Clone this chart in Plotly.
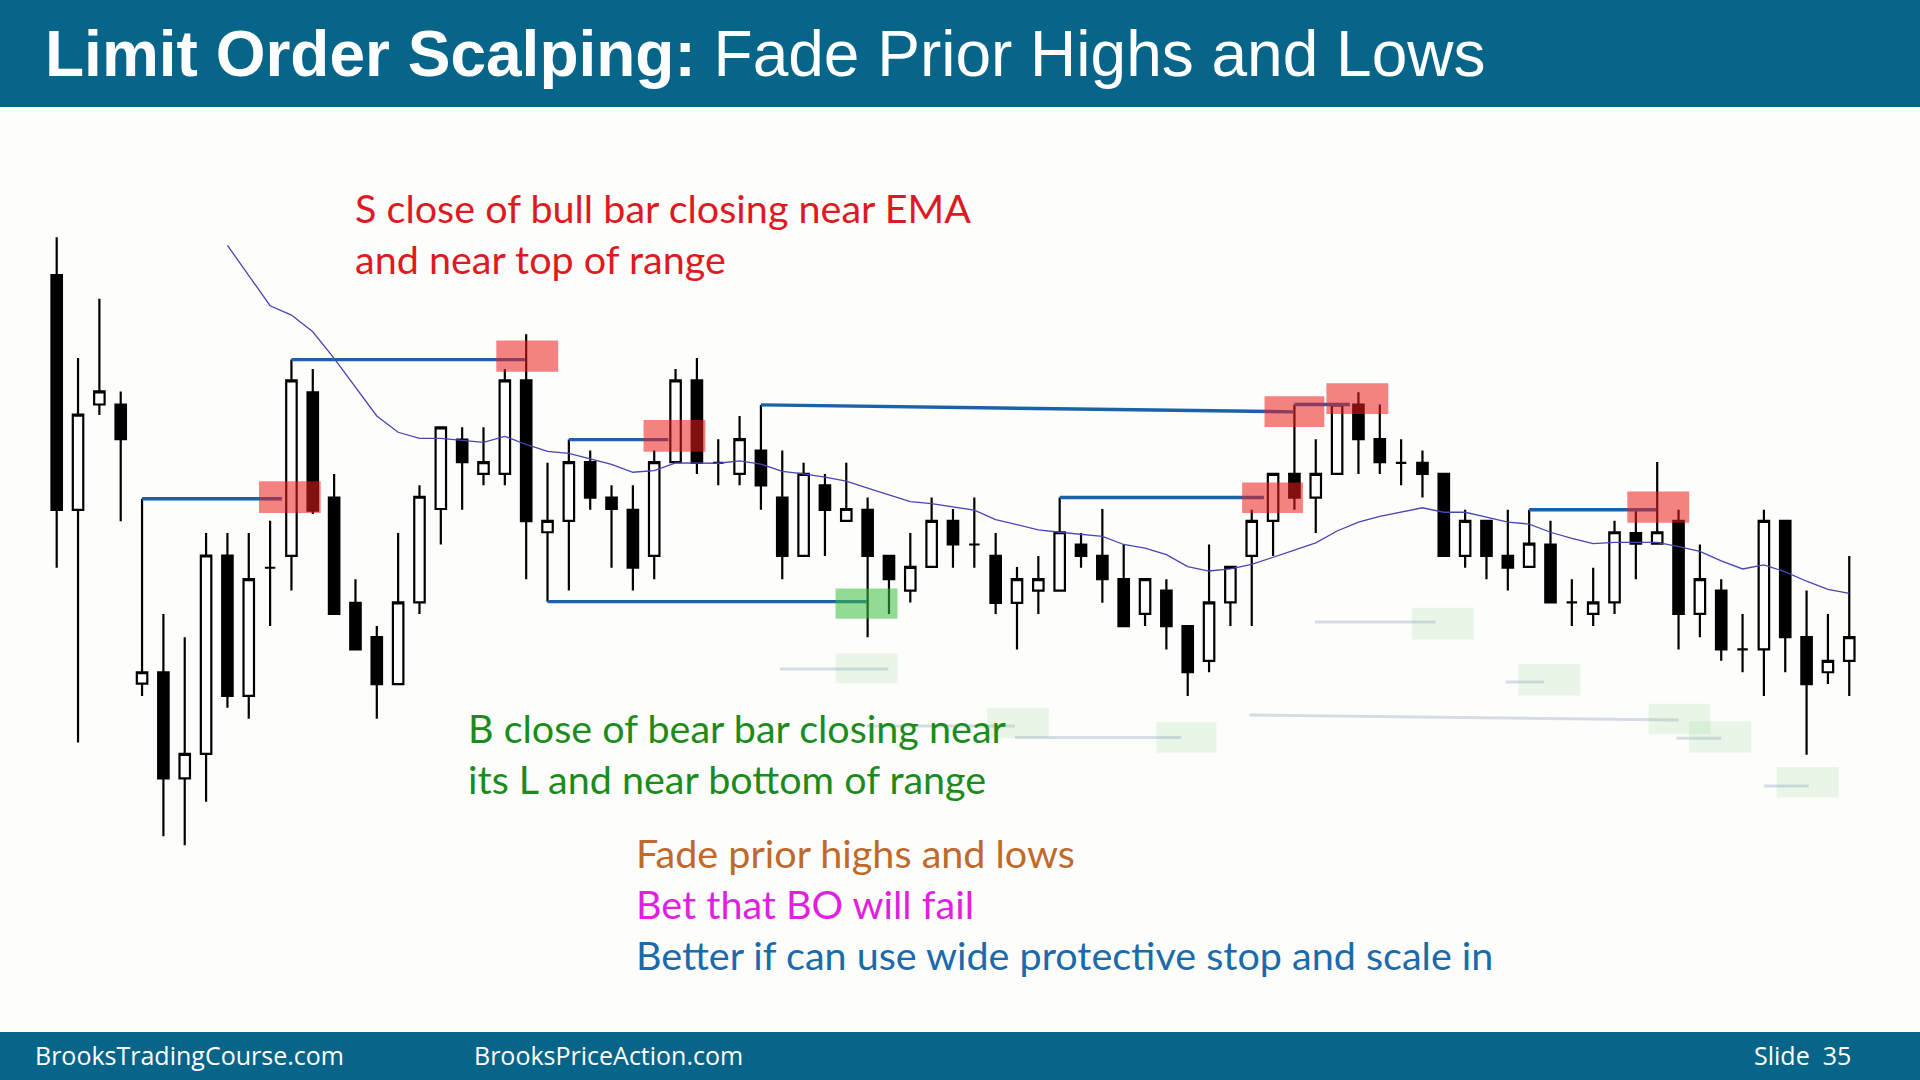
import plotly.graph_objects as go

# ---------------- data ----------------
bar_index = list(range(85))

open_ = [146.5, 89.0, 114.8, 114.8, 46.4, 49.2, 23.2, 29.2, 77.8, 43.4,
         74.8, 77.7, 117.8, 92.0, 66.2, 57.8, 46.3, 66.3, 89.2, 106.2,
         97.8, 97.8, 120.7, 83.5, 86.3, 100.7, 92.0, 89.0, 77.7, 100.7,
         120.7, 100.5, 97.8, 103.5, 92.0, 77.7, 95.0, 86.3, 89.0, 77.7,
         69.2, 75.0, 86.3, 80.5, 77.7, 66.2, 69.2, 69.2, 80.5, 77.7,
         72.0, 63.5, 69.2, 60.5, 52.0, 66.3, 77.7, 86.3, 97.8, 92.0,
         97.8, 114.8, 106.3, 100.5, 100.5, 97.8, 77.7, 86.3, 77.7, 75.0,
         80.5, 66.3, 63.5, 66.3, 83.3, 80.7, 86.3, 63.5, 69.2, 54.8,
         54.8, 86.3, 57.8, 49.2, 52.0]
high = [155.8, 126.2, 140.7, 118.0, 91.7, 63.5, 57.8, 83.3, 83.3, 83.3,
        86.3, 125.8, 123.5, 97.8, 72.0, 60.5, 83.3, 95.0, 109.2, 109.2,
        109.2, 123.5, 132.0, 100.5, 106.2, 103.5, 95.0, 95.0, 103.5, 123.5,
        126.2, 106.3, 112.0, 114.7, 103.5, 100.5, 97.8, 100.5, 92.0, 77.7,
        83.3, 92.0, 89.2, 92.0, 83.3, 75.0, 77.7, 92.0, 83.3, 89.2,
        80.5, 72.0, 72.0, 60.5, 80.5, 75.0, 89.0, 97.8, 114.8, 106.3,
        114.8, 117.8, 114.8, 106.3, 103.5, 97.8, 89.0, 86.3, 89.0, 89.0,
        86.3, 72.0, 74.8, 86.3, 89.0, 100.7, 89.0, 80.5, 72.0, 63.5,
        89.0, 86.3, 69.2, 63.5, 77.7]
low = [74.8, 32.0, 112.2, 86.2, 43.4, 9.0, 6.8, 17.5, 40.5, 37.8,
       60.5, 69.2, 88.0, 63.5, 54.8, 37.8, 46.3, 63.5, 80.5, 89.0,
       95.0, 95.0, 72.0, 66.5, 69.2, 89.0, 74.8, 69.2, 72.0, 100.7,
       97.8, 95.0, 95.0, 89.0, 72.0, 77.7, 77.7, 86.3, 57.8, 63.5,
       66.3, 75.0, 74.8, 74.8, 63.5, 54.8, 63.5, 69.2, 74.8, 66.2,
       60.5, 60.5, 54.8, 43.4, 49.2, 60.5, 60.5, 77.7, 89.0, 83.3,
       97.8, 97.8, 97.8, 95.0, 92.0, 77.7, 74.8, 72.0, 69.2, 75.0,
       66.3, 60.5, 60.5, 63.5, 72.0, 80.7, 54.8, 57.8, 52.0, 49.2,
       43.4, 49.2, 29.0, 46.3, 43.4]
close = [89.0, 112.3, 118.0, 106.3, 49.2, 23.2, 29.2, 77.8, 43.4, 72.0,
         74.8, 120.7, 88.8, 63.5, 54.8, 46.3, 66.3, 92.2, 109.2, 100.7,
         100.7, 120.7, 86.2, 86.3, 100.7, 92.0, 89.2, 74.8, 100.7, 120.7,
         100.5, 100.5, 106.3, 95.0, 77.7, 97.8, 89.0, 89.2, 77.7, 72.0,
         75.0, 86.3, 80.5, 80.5, 66.2, 72.0, 72.0, 83.5, 77.7, 72.0,
         60.5, 72.0, 60.5, 49.2, 66.3, 75.0, 86.3, 97.8, 92.0, 97.8,
         114.8, 106.3, 100.7, 100.5, 97.8, 77.7, 86.3, 77.7, 74.8, 80.7,
         66.3, 66.3, 66.3, 83.5, 80.7, 83.5, 63.5, 72.0, 54.8, 54.8,
         86.3, 57.8, 46.3, 52.0, 57.8]

ema = [None] * 8 + [
    153.8, 146.4, 139.0, 136.7, 132.6, 126.1, 118.9, 112.0, 108.0, 106.5,
    106.5, 106.0, 105.5, 107.0, 105.0, 103.3, 102.8, 101.5, 100.1, 98.2,
    98.6, 100.5, 100.4, 100.4, 101.0, 100.2, 98.4, 97.8, 97.0, 96.0,
    94.3, 92.7, 91.0, 90.5, 89.7, 88.9, 86.6, 85.3, 84.1, 83.5,
    83.0, 82.5, 80.5, 79.6, 78.0, 75.1, 74.0, 74.5, 75.6, 77.4,
    79.1, 80.9, 83.8, 86.0, 87.4, 88.5, 89.5, 88.4, 88.4, 87.2,
    86.0, 85.5, 83.5, 82.0, 80.7, 81.0, 81.0, 81.0, 80.0, 78.8,
    76.5, 74.5, 75.5, 73.8, 71.5, 69.5, 68.5]

# prior highs / lows being faded (horizontal reference lines)
level_x0 = [4, 11, 24, 23, 33, 47, 58, 69]
level_x1 = [10.55, 21.95, 28.66, 37.96, 57.95, 56.57, 60.6, 74.95]
level_y0 = [91.7, 125.8, 106.2, 66.5, 114.7, 92.0, 114.8, 89.0]
level_y1 = [91.7, 125.8, 106.2, 66.5, 113.0, 92.0, 114.8, 89.0]

# sell-zone boxes
sell_x0 = [9.48, 20.6, 27.5, 56.6, 55.55, 59.5, 73.6]
sell_x1 = [12.37, 23.5, 30.4, 59.4, 58.4, 62.4, 76.5]
sell_y0 = [88.2, 122.8, 103.2, 109.3, 88.2, 112.5, 85.8]
sell_y1 = [96.0, 130.5, 111.0, 116.8, 95.7, 120.0, 93.5]

# buy-zone boxes
buy_x0 = [36.5]
buy_x1 = [39.4]
buy_y0 = [62.3]
buy_y1 = [69.7]

# faded (ghost) lines and boxes
ghost_line_x0 = [33.9, 37.96, 44.9, 58.96, 55.9, 67.9, 75.9, 80.0]
ghost_line_x1 = [38.97, 44.9, 52.7, 64.6, 76.0, 69.7, 78.0, 82.1]
ghost_line_y0 = [50.0, 36.0, 33.2, 61.5, 38.7, 46.8, 33.0, 21.3]
ghost_line_y1 = [50.0, 36.0, 33.2, 61.5, 37.5, 46.8, 33.0, 21.3]

ghost_box_x0 = [36.5, 43.6, 51.54, 63.5, 68.5, 74.6, 76.5, 80.6]
ghost_box_x1 = [39.4, 46.5, 54.35, 66.4, 71.4, 77.5, 79.4, 83.5]
ghost_box_y0 = [46.5, 33.0, 29.5, 57.2, 43.5, 34.0, 29.5, 18.5]
ghost_box_y1 = [53.8, 40.5, 37.0, 65.0, 51.2, 41.5, 37.2, 26.0]

title_bold = "Limit Order Scalping:"
title_rest = "Fade Prior Highs and Lows"
sell_note = ["S close of bull bar closing near EMA", "and near top of range"]
buy_note = ["B close of bear bar closing near", "its L and near bottom of range"]
summary = [("Fade prior highs and lows", "#c1692c"),
           ("Bet that BO will fail", "#e11ee1"),
           ("Better if can use wide protective stop and scale in", "#1b6aac")]
footer_left = "BrooksTradingCourse.com"
footer_mid = "BrooksPriceAction.com"
footer_right = "Slide  35"

# ---------------- figure ----------------
W, H = 1920, 1080
BAR = "#076589"
NOTE = 39.5

fig = go.Figure()

fig.add_trace(go.Candlestick(
    x=bar_index, open=open_, high=high, low=low, close=close,
    increasing=dict(line=dict(color="black", width=2.2), fillcolor="white"),
    decreasing=dict(line=dict(color="black", width=2.2), fillcolor="black"),
    whiskerwidth=0, showlegend=False, hoverinfo="skip"))

fig.add_trace(go.Scatter(
    x=bar_index, y=ema, mode="lines",
    line=dict(color="#4646b4", width=1.3),
    showlegend=False, hoverinfo="skip"))

shapes = []
# header & footer bars
shapes.append(dict(type="rect", xref="paper", yref="paper", x0=0, x1=1,
                   y0=1 - 107 / H, y1=1, fillcolor=BAR, line=dict(width=0), layer="below"))
shapes.append(dict(type="rect", xref="paper", yref="paper", x0=0, x1=1,
                   y0=0, y1=48 / H, fillcolor=BAR, line=dict(width=0), layer="below"))

for x0, x1, y0, y1 in zip(ghost_box_x0, ghost_box_x1, ghost_box_y0, ghost_box_y1):
    shapes.append(dict(type="rect", xref="x", yref="y", x0=x0, x1=x1, y0=y0, y1=y1,
                       fillcolor="rgba(60,190,60,0.10)", line=dict(width=0), layer="below"))
for x0, x1, y0, y1 in zip(ghost_line_x0, ghost_line_x1, ghost_line_y0, ghost_line_y1):
    shapes.append(dict(type="line", xref="x", yref="y", x0=x0, x1=x1, y0=y0, y1=y1,
                       line=dict(color="rgba(120,150,180,0.30)", width=3), layer="below"))

for x0, x1, y0, y1 in zip(level_x0, level_x1, level_y0, level_y1):
    shapes.append(dict(type="line", xref="x", yref="y", x0=x0, x1=x1, y0=y0, y1=y1,
                       line=dict(color="#1a63a8", width=3.4), layer="above"))
for x0, x1, y0, y1 in zip(sell_x0, sell_x1, sell_y0, sell_y1):
    shapes.append(dict(type="rect", xref="x", yref="y", x0=x0, x1=x1, y0=y0, y1=y1,
                       fillcolor="rgba(235,30,30,0.55)", line=dict(width=0), layer="above"))
for x0, x1, y0, y1 in zip(buy_x0, buy_x1, buy_y0, buy_y1):
    shapes.append(dict(type="rect", xref="x", yref="y", x0=x0, x1=x1, y0=y0, y1=y1,
                       fillcolor="rgba(60,190,60,0.55)", line=dict(width=0), layer="above"))


def px_ann(text, x, y, size, color, family="Lato", xanchor="left"):
    return dict(text=text, xref="paper", yref="paper", x=x / W, y=1 - y / H,
                xanchor=xanchor, yanchor="middle", showarrow=False,
                font=dict(family=family, size=size, color=color))


anns = []
anns.append(px_ann("<b>" + title_bold + "</b> " + title_rest, 43, 53.5, 64, "white",
                   family="Liberation Sans"))
anns.append(px_ann(sell_note[0], 353, 207.5, NOTE, "#dd1a22"))
anns.append(px_ann(sell_note[1], 353, 258.5, NOTE, "#dd1a22"))
anns.append(px_ann(buy_note[0], 466, 727.5, NOTE, "#1b8c1b"))
anns.append(px_ann(buy_note[1], 466, 778.5, NOTE, "#1b8c1b"))
for k, (txt, col) in enumerate(summary):
    anns.append(px_ann(txt, 634, 852 + 51 * k, NOTE, col))
anns.append(px_ann(footer_left, 33, 1055, 25, "white", family="Open Sans"))
anns.append(px_ann(footer_mid, 472, 1055, 25, "white", family="Open Sans"))
anns.append(px_ann(footer_right, 1853, 1055, 25, "white", family="Open Sans", xanchor="right"))

# pixel mapping: bar i -> 56.7 + 21.34*i ; price p -> 873.06 - 4.0816*p
x_range = [-56.7 / 21.34, (W - 56.7) / 21.34]
y_range = [(873.06 - H) / 4.0816, 873.06 / 4.0816]

fig.update_layout(
    width=W, height=H, autosize=False,
    margin=dict(l=0, r=0, t=0, b=0, pad=0),
    paper_bgcolor="#fdfdfb", plot_bgcolor="rgba(0,0,0,0)",
    xaxis=dict(range=x_range, visible=False, rangeslider=dict(visible=False), fixedrange=True),
    yaxis=dict(range=y_range, visible=False, fixedrange=True),
    shapes=shapes, annotations=anns, showlegend=False,
)

fig.write_html("out.html")
